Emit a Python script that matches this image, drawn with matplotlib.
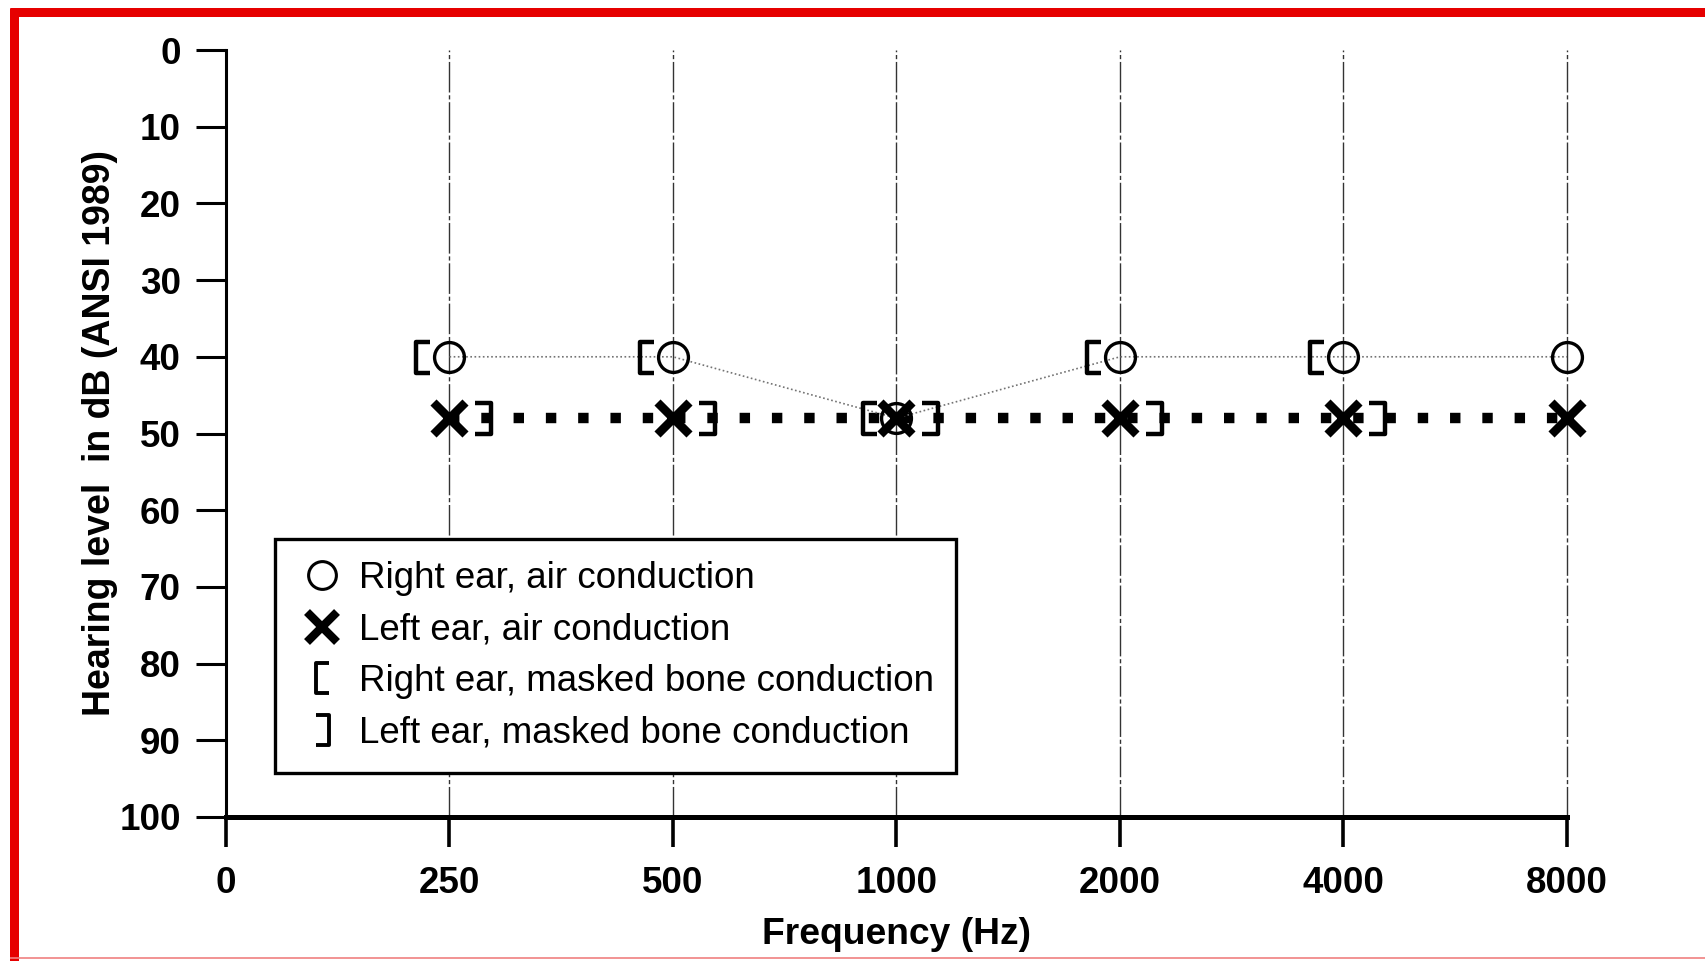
import matplotlib
matplotlib.use("Agg")
import matplotlib.pyplot as plt
from matplotlib.path import Path
from matplotlib.lines import Line2D
from matplotlib.markers import MarkerStyle
import numpy as np

# ---- data ----
categories = ["0", "250", "500", "1000", "2000", "4000", "8000"]
freqs = ["250", "500", "1000", "2000", "4000", "8000"]
right_air = [40, 40, 48, 40, 40, 40]
left_air = [48, 48, 48, 48, 48, 48]
right_bone = [40, 40, 48, 40, 40, np.nan]
left_bone = [48, 48, 48, 48, 48, np.nan]
yticks = list(range(0, 101, 10))
legend_labels = ["Right ear, air conduction", "Left ear, air conduction",
                 "Right ear, masked bone conduction", "Left ear, masked bone conduction"]

plt.rcParams['font.family'] = ['Liberation Sans', 'DejaVu Sans']

W, H = 1706, 961
fig = plt.figure(figsize=(W / 100, H / 100), dpi=100)
ax = fig.add_axes([226 / W, 1 - 817 / H, (1567 - 226) / W, (817 - 50) / H])


def bracket(side, offset_px, w_px, h_px):
    if side == 'left':
        xo, xb = offset_px + w_px / 2, offset_px - w_px / 2
    else:
        xo, xb = offset_px - w_px / 2, offset_px + w_px / 2
    verts = [(xo, h_px / 2), (xb, h_px / 2), (xb, -h_px / 2), (xo, -h_px / 2)]
    codes = [Path.MOVETO, Path.LINETO, Path.LINETO, Path.LINETO]
    maxabs = max(abs(v) for xy in verts for v in xy)
    ms = 2 * maxabs * 72 / 100
    return MarkerStyle(Path(verts, codes), joinstyle='miter'), ms


xpos = [categories.index(f) for f in freqs]

# left ear air: thick dotted line + X
ax.plot(xpos, left_air, color='black', lw=7.5, ls=(0, (1, 2.1)),
        dash_capstyle='butt', zorder=3, clip_on=False)
ax.plot(xpos, left_air, ls='none', marker='x', ms=23, mew=6.2,
        color='black', zorder=5, clip_on=False)
# right ear air: thin light dotted line + O
ax.plot(xpos, right_air, color='0.45', lw=1.2, ls=(0, (1, 1.5)), zorder=3)
ax.plot(xpos, right_air, ls='none', marker='o', ms=21.5, mew=2.4,
        mfc='none', mec='black', zorder=5, clip_on=False)
# masked bone brackets
lm, lms = bracket('left', -26, 14, 31)
rm, rms = bracket('right', 34, 16, 31)
ax.plot(xpos, right_bone, ls='none', marker=lm, ms=lms, mew=3.2,
        mfc='none', mec='black', zorder=5, clip_on=False)
ax.plot(xpos, left_bone, ls='none', marker=rm, ms=rms, mew=3.2,
        mfc='none', mec='black', zorder=5, clip_on=False)

# axes styling
ax.set_xlim(0, 6)
ax.set_ylim(100, 0)
ax.set_xticks(range(len(categories)))
ax.set_xticklabels(categories)
ax.set_yticks(yticks)
ax.tick_params(axis='y', direction='out', length=21.6, width=2.2, pad=11,
               labelsize=26.5)
ax.tick_params(axis='x', direction='out', length=21.6, width=2.6, pad=14,
               labelsize=26.5)
for lab in ax.get_xticklabels() + ax.get_yticklabels():
    lab.set_fontweight('bold')
for s in ('top', 'right'):
    ax.spines[s].set_visible(False)
ax.spines['left'].set_linewidth(2.2)
ax.spines['bottom'].set_linewidth(3.6)
ax.grid(axis='x', color='0.2', lw=1.0, ls=(0, (22, 2, 3, 2)))
for gl in ax.get_xgridlines():
    gl.set_clip_on(False)
ax.set_axisbelow(True)

ax.set_xlabel("Frequency (Hz)", fontsize=26.8, fontweight='bold')
ax.xaxis.set_label_coords(0.5, -(934 - 817) / 767)
ax.xaxis.label.set_va('center')
ax.set_ylabel("Hearing level  in dB (ANSI 1989)", fontsize=27, fontweight='bold')
ax.yaxis.set_label_coords(-(226 - 100) / 1341, 0.5)
ax.yaxis.label.set_va('center')

# legend
lcm, lcms = bracket('left', 0, 13, 30)
rcm, rcms = bracket('right', 0, 13, 30)
handles = [
    Line2D([], [], ls='none', marker='o', ms=20, mew=2.2, mfc='none', mec='black'),
    Line2D([], [], ls='none', marker='x', ms=21, mew=6, color='black'),
    Line2D([], [], ls='none', marker=lcm, ms=lcms, mew=2.8, mfc='none', mec='black'),
    Line2D([], [], ls='none', marker=rcm, ms=rcms, mew=2.8, mfc='none', mec='black'),
]
leg = ax.legend(handles, legend_labels, loc='upper left',
                bbox_to_anchor=(275 / W, 1 - 539 / H), bbox_transform=fig.transFigure,
                borderaxespad=0, frameon=True, fancybox=False, framealpha=1,
                edgecolor='black', fontsize=26.5, handlelength=1.36,
                handletextpad=0.33, borderpad=0.6, labelspacing=0.45)
leg.get_frame().set_linewidth(2.4)
leg.set_zorder(10)

# red frame
red = '#e60000'
fig.add_artist(Line2D([14 / W, 14 / W], [0, 1 - 8 / H], transform=fig.transFigure,
                      color=red, lw=9 * 0.72, solid_capstyle='butt'))
fig.add_artist(Line2D([10 / W, 1], [1 - 12 / H, 1 - 12 / H], transform=fig.transFigure,
                      color=red, lw=9 * 0.72, solid_capstyle='butt'))
fig.add_artist(Line2D([10 / W, 1], [1 - 958 / H, 1 - 958 / H], transform=fig.transFigure,
                      color='#f08080', lw=1.2, solid_capstyle='butt'))

fig.savefig("out.png", dpi=100)
